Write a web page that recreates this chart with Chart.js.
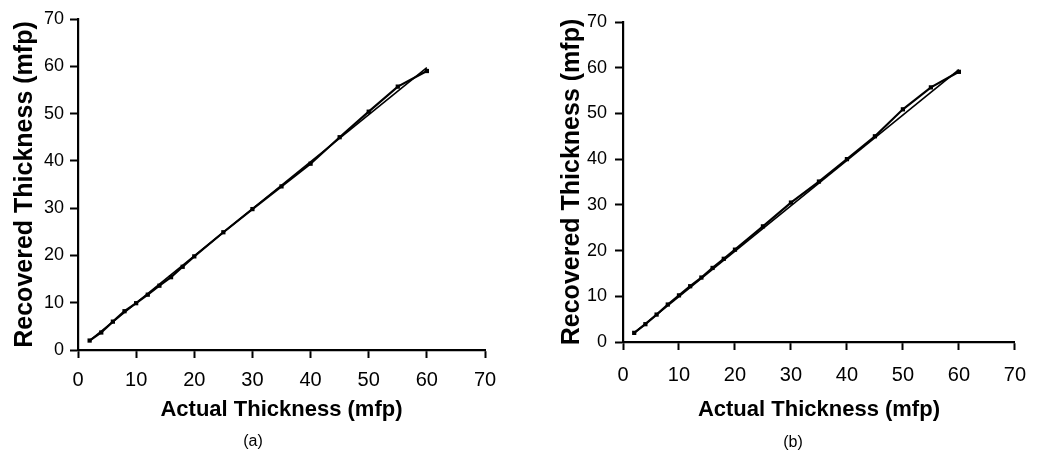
<!DOCTYPE html>
<html><head><meta charset="utf-8">
<script src="https://cdn.jsdelivr.net/npm/chart.js@4.4.1/dist/chart.umd.min.js"></script>
<style>
html,body{margin:0;padding:0;background:#fff;width:1039px;height:460px;overflow:hidden;}
.wrap{position:absolute;top:0;height:460px;}
#wa{left:0;width:540px;}
#wb{left:540px;width:499px;}
.cap{position:absolute;font-family:'Liberation Sans',Arial,sans-serif;font-size:16px;color:#000;transform:translate(-50%,-50%);white-space:nowrap;}
</style></head><body>
<div class="wrap" id="wa"><canvas id="ca" width="540" height="460"></canvas></div>
<div class="wrap" id="wb"><canvas id="cb" width="499" height="460"></canvas></div>
<div class="cap" id="capA" style="left:253px;top:441px">(a)</div>
<div class="cap" id="capB" style="left:793px;top:442px">(b)</div>
<script>
// ---- data ----
const xTickLabels = ['0','10','20','30','40','50','60','70'];
const yTickLabels = ['0','10','20','30','40','50','60','70'];
const actualA = [2,4,6,8,10,12,14,16,18,20,25,30,35,40,45,50,55,60];
const recoveredA = [2.0,3.7,6.0,8.2,9.9,11.7,13.6,15.4,17.6,19.8,24.9,29.8,34.6,39.4,45.0,50.4,55.7,59.0];
const idealXA = [2,60];
const idealYA = [2,59.7];
const actualB = [2,4,6,8,10,12,14,16,18,20,25,30,35,40,45,50,55,60];
const recoveredB = [2.0,3.9,6.0,8.2,10.2,12.2,14.1,16.2,18.2,20.2,25.3,30.5,35.1,40.0,45.0,50.9,55.7,59.1];
const idealXB = [2,60];
const idealYB = [2,59.6];
const xTitle = 'Actual Thickness (mfp)';
const yTitle = 'Recovered Thickness (mfp)';

const tickFam = '"Liberation Sans", Arial, sans-serif';
const titleFam = '"Liberation Sans", Arial, sans-serif';
const xTickSize = 20;
const yTickSize = 18;

function pts(xs, ys){ return xs.map((x,i)=>({x:x, y:ys[i]})); }

function makeChart(id, xs, ys, ix, iy, g){
  new Chart(document.getElementById(id), {
    type:'scatter',
    data:{datasets:[
      {data:pts(xs,ys), showLine:true, borderColor:'#000', backgroundColor:'#000', borderWidth:2.2,
       pointStyle:'rect', pointRadius:3, pointBorderWidth:0, tension:0},
      {data:pts(ix,iy), showLine:true, borderColor:'#000', borderWidth:1.6, pointRadius:0}
    ]},
    options:{
      responsive:false, animation:false, devicePixelRatio:1,
      layout:{padding:{left:g.padL, top:g.top, right:g.padR, bottom:g.padB}},
      plugins:{legend:{display:false}, tooltip:{enabled:false}},
      scales:{
        x:{type:'linear', min:0, max:70,
          ticks:{stepSize:10, color:'#000', padding:g.xPad, font:{family:tickFam, size:xTickSize},
                 callback:(v,i)=>xTickLabels[i]},
          grid:{drawOnChartArea:false, color:'#000', tickLength:8, tickWidth:2},
          border:{color:'#000', width:2.2},
          title:{display:true, text:xTitle, color:'#000', padding:0, font:{family:titleFam, size:22, weight:'bold'}},
          afterFit:(s)=>{s.height=g.xH;}
        },
        y:{type:'linear', min:0, max:70,
          ticks:{stepSize:10, color:'#000', padding:g.yPad, font:{family:tickFam, size:yTickSize},
                 callback:(v,i)=>yTickLabels[i]},
          grid:{drawOnChartArea:false, color:'#000', tickLength:8, tickWidth:2},
          border:{color:'#000', width:2.2},
          title:{display:true, text:yTitle, color:'#000', padding:0, font:{family:titleFam, size:25, weight:'bold'}},
          afterFit:(s)=>{s.width=g.yW;}
        }
      }
    }
  });
}

makeChart('ca', actualA, recoveredA, idealXA, idealYA,
  {padL:10, yW:68, top:19, padR:55, xH:73.2, padB:36.8, xPad:10, yPad:6});
makeChart('cb', actualB, recoveredB, idealXB, idealYB,
  {padL:17, yW:66, top:22, padR:20, xH:81.2, padB:36.8, xPad:13, yPad:8});
</script>
</body></html>
